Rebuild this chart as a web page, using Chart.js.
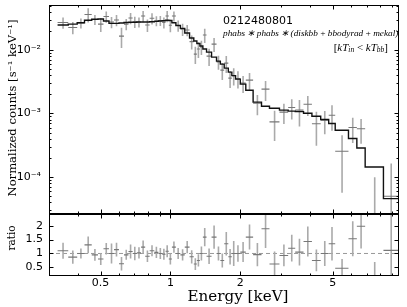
<!DOCTYPE html>
<html>
<head>
<meta charset="utf-8">
<script src="https://cdn.jsdelivr.net/npm/chart.js@4.4.0/dist/chart.umd.min.js"></script>
<style>
  html, body { margin: 0; padding: 0; background: #fff; }
  #wrap { position: relative; width: 407px; height: 307px; overflow: hidden; }
  #top { position: absolute; left: 0; top: 0; }
  #bottom { position: absolute; left: 0; top: 212px; }
</style>
</head>
<body>
<div id="wrap">
  <canvas id="top" width="407" height="216"></canvas>
  <canvas id="bottom" width="407" height="95"></canvas>
</div>
<script>
// energy bin edges [keV], 56 bins
const edges = [0.3266, 0.3631, 0.3968, 0.4266, 0.4583, 0.4877, 0.5149, 0.5438, 0.5715, 0.6004,
  0.6310, 0.6597, 0.6877, 0.7170, 0.7474, 0.7786, 0.8139, 0.8526, 0.8879, 0.9220,
  0.9526, 0.9843, 1.015, 1.056, 1.104, 1.153, 1.209, 1.261, 1.300, 1.340,
  1.380, 1.431, 1.504, 1.580, 1.641, 1.705, 1.776, 1.839, 1.908, 2.000,
  2.112, 2.271, 2.468, 2.671, 2.949, 3.215, 3.448, 3.744, 4.069, 4.439,
  4.805, 5.126, 5.847, 6.353, 6.899, 8.270, 9.592];

// normalized counts [s^-1 keV^-1]
const counts = [0.0272, 0.0227, 0.0267, 0.0364, 0.0303, 0.0257, 0.0338, 0.0277, 0.0298, 0.0166,
  0.0257, 0.0320, 0.0279, 0.0277, 0.0344, 0.0248, 0.0317, 0.0289, 0.0293, 0.0273,
  0.0344, 0.0246, 0.0344, 0.0244, 0.0214, 0.0207, 0.0136, 0.00865, 0.0104, 0.0112,
  0.0173, 0.00804, 0.0124, 0.00651, 0.00483, 0.00623, 0.00361, 0.00396, 0.00355, 0.00301,
  0.00336, 0.00145, 0.00242, 0.000737, 0.00105, 0.00124, 0.00113, 0.00140, 0.000690, 0.000784,
  0.000940, 0.000254, 0.000601, 0.000575, 0, 0.0000494];

const countErr = [0.00544, 0.00499, 0.00481, 0.0091, 0.00545, 0.00643, 0.00676, 0.00554, 0.00596, 0.00581,
  0.00514, 0.0064, 0.00558, 0.00499, 0.00688, 0.00546, 0.00634, 0.0052, 0.00527, 0.00546,
  0.00688, 0.00541, 0.00619, 0.00488, 0.00471, 0.00414, 0.0034, 0.0026, 0.00291, 0.0028,
  0.00433, 0.00241, 0.0031, 0.00163, 0.00145, 0.00187, 0.00108, 0.00119, 0.00107, 0.0009,
  0.00101, 0.000508, 0.000847, 0.000369, 0.000368, 0.000434, 0.000509, 0.00049, 0.00038, 0.000314,
  0.000404, 0.000198, 0.000258, 0.000242, 0.000099, 0.000113];

// folded model
const model = [0.0248, 0.0257, 0.0270, 0.0295, 0.0306, 0.0309, 0.0287, 0.0264, 0.0264, 0.0267,
  0.0272, 0.0274, 0.0274, 0.0277, 0.0277, 0.0277, 0.0280, 0.0284, 0.0287, 0.0290,
  0.0295, 0.0293, 0.0270, 0.0244, 0.0220, 0.0186, 0.0155, 0.0139, 0.0127, 0.0116,
  0.0104, 0.0093, 0.00775, 0.0067, 0.00601, 0.0052, 0.00449, 0.00396, 0.00348, 0.0029,
  0.00233, 0.00151, 0.0013, 0.00121, 0.00113, 0.00109, 0.00107, 0.00101, 0.000907, 0.000804,
  0.000695, 0.000545, 0.000403, 0.000286, 0.000143, 0.0000454];

// data / model
const ratio = [1.1, 0.87, 1.0, 1.31, 0.95, 0.8, 1.17, 1.0, 1.14, 0.63,
  0.95, 1.07, 1.0, 1.02, 1.23, 0.9, 1.1, 1.04, 1.0, 0.97,
  1.08, 0.8, 1.23, 1.0, 0.95, 1.23, 0.88, 0.62, 0.75, 1.0,
  1.59, 0.9, 1.59, 1.0, 0.75, 1.35, 0.88, 1.0, 1.0, 1.05,
  1.59, 0.96, 1.89, 0.62, 0.93, 1.19, 1.05, 1.43, 0.75, 1.0,
  1.35, 0.47, 1.53, 1.98, 0, 1.11];

const ratioErr = [0.29, 0.24, 0.18, 0.30, 0.21, 0.21, 0.21, 0.36, 0.25, 0.24,
  0.18, 0.25, 0.24, 0.2, 0.24, 0.21, 0.2, 0.2, 0.2, 0.2,
  0.22, 0.2, 0.2, 0.2, 0.2, 0.22, 0.24, 0.21, 0.22, 0.25,
  0.33, 0.28, 0.42, 0.25, 0.25, 0.42, 0.28, 0.45, 0.3, 0.36,
  0.45, 0.42, 0.69, 0.45, 0.39, 0.48, 0.48, 0.54, 0.39, 0.45,
  0.6, 0.33, 0.63, 0.8, 0.69, 1.3];

const xRange = [0.3, 9.65];
const yRange = [2.6e-5, 0.0514];
const ratioRange = [0.19, 2.42];
const xLabelTicks = [0.5, 1, 2, 5];
const xMinorTicks = [0.3, 0.4, 0.6, 0.7, 0.8, 0.9, 3, 4, 6, 7, 8, 9];
const yMajorTicks = [1e-4, 1e-3, 1e-2];
const ratioTicks = [0.5, 1, 1.5, 2];

const obsId = '0212480801';
const modelName = 'phabs\u2009\u2217\u2009phabs\u2009\u2217\u2009(diskbb\u2009+\u2009bbodyrad\u2009+\u2009mekal)';

const yMinorTicks = [];
for (let e = -5; e <= -2; e++) {
  for (let m = 2; m <= 9; m++) {
    const v = m * Math.pow(10, e);
    if (v > yRange[0] && v < yRange[1]) yMinorTicks.push(v);
  }
}

Chart.defaults.font.family = '"DejaVu Sans"';
Chart.defaults.color = '#000';

const SUP = {'-': '\u207b', '0': '\u2070', '1': '\u00b9', '2': '\u00b2', '3': '\u00b3', '4': '\u2074', '5': '\u2075'};
function powLabel(v) {
  const e = Math.round(Math.log10(v));
  return '10' + String(e).split('').map(c => SUP[c]).join('');
}

// error bar crosses as broken line datasets
function crosses(vals, errs, floor) {
  const v = [], h = [];
  vals.forEach((c, i) => {
    const lo = edges[i], hi = edges[i + 1], mid = (lo + hi) / 2;
    const y = floor ? Math.max(c, floor) : c;
    const yl = floor ? Math.max(c - errs[i], floor) : c - errs[i];
    v.push({x: mid, y: yl}, {x: mid, y: c + errs[i]}, {x: mid, y: null});
    h.push({x: lo, y: y}, {x: hi, y: y}, {x: hi, y: null});
  });
  return {v, h};
}

function lineDs(data, color, width, extra) {
  return Object.assign({
    type: 'line', data: data, borderColor: color, borderWidth: width,
    pointRadius: 0, pointHoverRadius: 0, fill: false, tension: 0, spanGaps: false
  }, extra || {});
}

function fitFont(ctx, text, style, family, width) {
  ctx.font = style + ' 20px ' + family;
  return 20 * width / ctx.measureText(text).width;
}

function drawText(ctx, text, x, y, style, family, width, align, rot) {
  const size = fitFont(ctx, text, style, family, width);
  ctx.save();
  ctx.translate(x, y);
  if (rot) ctx.rotate(rot);
  ctx.font = style + ' ' + size.toFixed(2) + 'px ' + family;
  ctx.textAlign = align;
  ctx.textBaseline = 'middle';
  ctx.fillStyle = '#000';
  ctx.fillText(text, 0, 0);
  ctx.restore();
}

// box plus inward ticks on all four sides
const frameTicks = {
  id: 'frameTicks',
  afterDatasetsDraw(chart, args, opts) {
    const {ctx, chartArea: a, scales} = chart;
    const L = Math.round(a.left) + 0.5, R = Math.round(a.right) - 0.5;
    const T = Math.round(a.top) + 0.5, B = Math.round(a.bottom) - 0.5;
    const ys = scales[opts.yId];
    ctx.save();
    ctx.strokeStyle = '#000';
    ctx.lineWidth = 1;
    ctx.beginPath();
    [[xLabelTicks, 4], [xMinorTicks, 2]].forEach(([vals, len]) => {
      vals.forEach(v => {
        const px = Math.round(scales.x.getPixelForValue(v)) + 0.5;
        ctx.moveTo(px, T); ctx.lineTo(px, T + len);
        ctx.moveTo(px, B); ctx.lineTo(px, B - len);
      });
    });
    [[opts.yMajor, 4], [opts.yMinor, 2]].forEach(([vals, len]) => {
      vals.forEach(v => {
        const py = Math.round(ys.getPixelForValue(v)) + 0.5;
        ctx.moveTo(L, py); ctx.lineTo(L + len, py);
        ctx.moveTo(R, py); ctx.lineTo(R - len, py);
      });
    });
    ctx.stroke();
    ctx.strokeRect(L, T, R - L, B - T);
    ctx.restore();
  }
};

const topLabels = {
  id: 'topLabels',
  afterDraw(chart) {
    const ctx = chart.ctx;
    drawText(ctx, 'Normalized counts [s\u207b\u00b9 keV\u207b\u00b9]', 12.5, 108, '', '"DejaVu Serif"', 177, 'center', -Math.PI / 2);
    ctx.save();
    ctx.font = '11px "DejaVu Sans"';
    ctx.textBaseline = 'middle';
    ctx.fillStyle = '#000';
    ctx.fillText(obsId, 223, 21.5);
    ctx.restore();
    drawText(ctx, modelName, 223, 33.5, 'italic', '"Liberation Serif"', 175, 'left');
    // [kT_in < kT_bb]
    const parts = [
      ['[', '11px "Liberation Serif"', 0],
      ['kT', 'italic 11px "Liberation Serif"', 0],
      ['in', 'italic 7.5px "Liberation Serif"', 2.5],
      [' < ', '11px "Liberation Serif"', 0],
      ['kT', 'italic 11px "Liberation Serif"', 0],
      ['bb', 'italic 7.5px "Liberation Serif"', 2.5],
      [']', '11px "Liberation Serif"', 0]
    ];
    ctx.save();
    ctx.textBaseline = 'middle';
    ctx.fillStyle = '#000';
    let total = 0;
    parts.forEach(p => { ctx.font = p[1]; total += ctx.measureText(p[0]).width; });
    let x = 388 - total;
    parts.forEach(p => {
      ctx.font = p[1];
      ctx.fillText(p[0], x, 48 + p[2]);
      x += ctx.measureText(p[0]).width;
    });
    ctx.restore();
  }
};

const bottomLabels = {
  id: 'bottomLabels',
  afterDraw(chart) {
    const ctx = chart.ctx;
    drawText(ctx, 'Energy [keV]', 238, 85, '', '"DejaVu Serif"', 101, 'center');
    drawText(ctx, 'ratio', 12.5, 26, '', '"DejaVu Serif"', 25, 'center', -Math.PI / 2);
  }
};

const topX = crosses(counts, countErr, 1e-9);
const botX = crosses(ratio, ratioErr, 0);
const modelSteps = edges.map((e, i) => ({x: e, y: model[Math.min(i, model.length - 1)]}));

const axisBase = {
  grid: {display: false, drawTicks: false},
  border: {display: false}
};

// keep tick labels from pushing the plot box around
function fixY(s) { s.width = 49; s.paddingTop = 0; s.paddingBottom = 0; }
function fixX(s) { s.height = 31; s.paddingLeft = 0; s.paddingRight = 0; }
const useTicks = vals => s => { s.ticks = vals.map(v => ({value: v})); };

new Chart(document.getElementById('top'), {
  type: 'line',
  data: {
    datasets: [
      lineDs(modelSteps, '#111', 1.4, {stepped: 'before', order: 0}),
      lineDs(topX.h, '#777', 1.1, {order: 1}),
      lineDs(topX.v, '#aaa', 1.6, {order: 2})
    ]
  },
  options: {
    responsive: false,
    animation: false,
    events: [],
    layout: {padding: {left: 0, right: 8, top: 5, bottom: 2}},
    plugins: {
      legend: {display: false},
      tooltip: {enabled: false},
      frameTicks: {yId: 'y', yMajor: yMajorTicks, yMinor: yMinorTicks}
    },
    scales: {
      x: {type: 'logarithmic', min: xRange[0], max: xRange[1], display: false},
      y: Object.assign({}, axisBase, {
        type: 'logarithmic', min: yRange[0], max: yRange[1],
        afterBuildTicks: useTicks(yMajorTicks),
        ticks: {autoSkip: false, padding: 8, font: {size: 11}, color: '#000', callback: v => powLabel(v)},
        afterFit: fixY
      })
    }
  },
  plugins: [frameTicks, topLabels]
});

new Chart(document.getElementById('bottom'), {
  type: 'line',
  data: {
    datasets: [
      lineDs([{x: xRange[0], y: 1}, {x: xRange[1], y: 1}], '#999', 1, {borderDash: [4, 3], order: 3}),
      lineDs(botX.h, '#777', 1.1, {order: 1}),
      lineDs(botX.v, '#aaa', 1.6, {order: 2})
    ]
  },
  options: {
    responsive: false,
    animation: false,
    events: [],
    layout: {padding: {left: 0, right: 8, top: 2, bottom: 0}},
    plugins: {
      legend: {display: false},
      tooltip: {enabled: false},
      frameTicks: {yId: 'y', yMajor: ratioTicks, yMinor: []}
    },
    scales: {
      x: Object.assign({}, axisBase, {
        type: 'logarithmic', min: xRange[0], max: xRange[1],
        afterBuildTicks: useTicks(xLabelTicks),
        ticks: {autoSkip: false, maxRotation: 0, padding: 1, font: {size: 11}, color: '#000', callback: v => String(v)},
        afterFit: fixX
      }),
      y: Object.assign({}, axisBase, {
        type: 'linear', min: ratioRange[0], max: ratioRange[1],
        afterBuildTicks: useTicks(ratioTicks),
        ticks: {autoSkip: false, padding: 6, font: {size: 11}, color: '#000', callback: v => String(v)},
        afterFit: fixY
      })
    }
  },
  plugins: [frameTicks, bottomLabels]
});
</script>
</body>
</html>
